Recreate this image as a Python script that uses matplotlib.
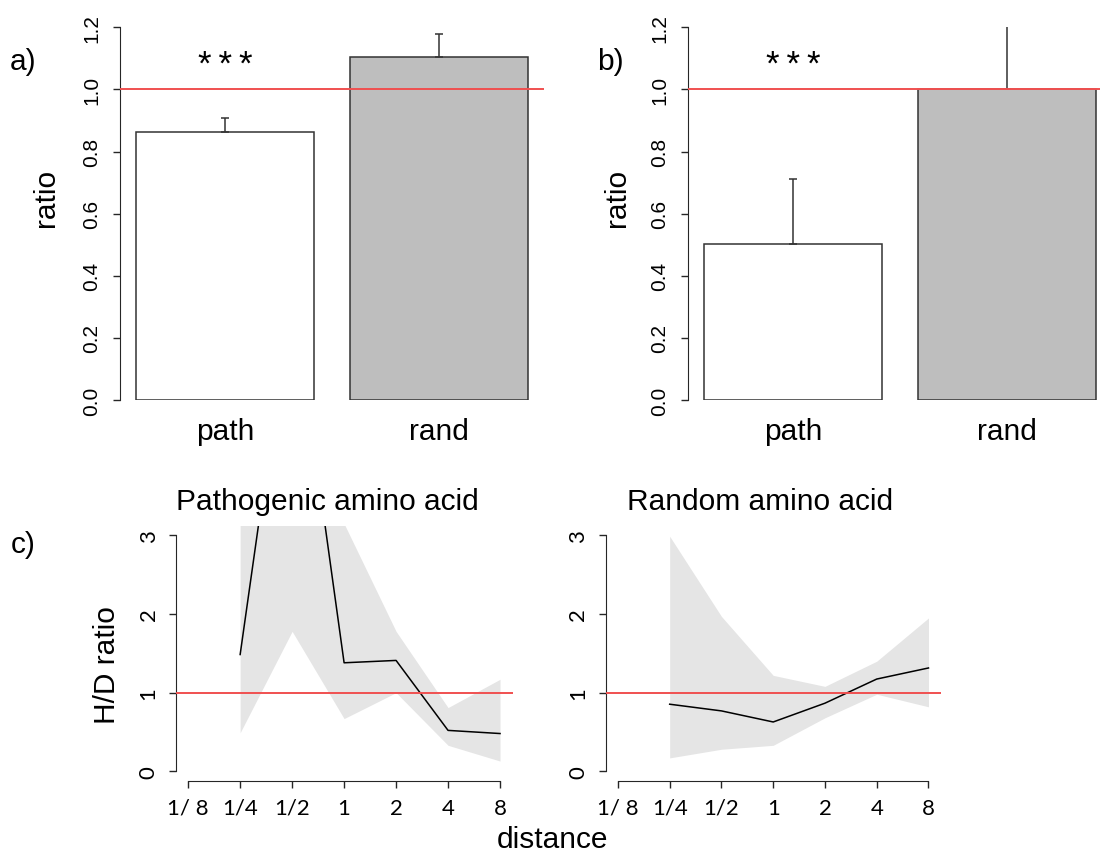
import matplotlib
matplotlib.use("Agg")
import matplotlib.pyplot as plt
import matplotlib.ticker as mticker

plt.rcParams['font.family'] = ['Liberation Sans', 'DejaVu Sans']

# --- data ---
bar_labels = ["path", "rand"]
a_ratio = [0.864, 1.103]
a_err_top = [0.909, 1.179]
b_ratio = [0.501, 1.0]
b_err_top = [0.713, 1.45]
bar_colors = ["white", "#bebebe"]

distance = [1/4, 1/2, 1, 2, 4, 8]
dist_ticks = [1/8, 1/4, 1/2, 1, 2, 4, 8]
dist_labels = ["1/ 8", "1/4", "1/2", "1", "2", "4", "8"]

path_mean = [1.485, 6.15, 1.38, 1.41, 0.52, 0.48]
path_low = [0.49, 1.78, 0.67, 1.0, 0.33, 0.13]
path_high = [6.5, 10.0, 3.15, 1.78, 0.81, 1.17]

rand_mean = [0.853, 0.768, 0.627, 0.866, 1.173, 1.314]
rand_low = [0.17, 0.28, 0.33, 0.68, 0.98, 0.82]
rand_high = [2.99, 1.97, 1.22, 1.08, 1.40, 1.95]

W, H = 1100, 854
fig = plt.figure(figsize=(W / 100, H / 100), dpi=100)

def px_axes(x0, y0, x1, y1):
    # pixel box (left, top, right, bottom) -> axes
    return fig.add_axes([x0 / W, 1 - y1 / H, (x1 - x0) / W, (y1 - y0) / H])

axis_col = "#262626"
red = "#f05050"
LBL = 21.5
calib = ["Lato", "DejaVu Sans"]

def bar_panel(ax, vals, tops):
    xpos = [0.7, 1.9]
    ax.bar(xpos, vals, width=1.0, color=bar_colors, edgecolor="#333333", linewidth=1.1, zorder=2)
    lower = [0, 0]
    upper = [t - v for t, v in zip(tops, vals)]
    ax.errorbar(xpos, vals, yerr=[lower, upper], fmt="none", ecolor="#333333",
                elinewidth=1.1, capsize=3.2, capthick=1.1, zorder=3)
    ax.axhline(1.0, color=red, linewidth=1.4, zorder=4)
    ax.set_xlim(0.112, 2.488)
    ax.set_ylim(0, 1.2)
    for s in ["top", "right", "bottom"]:
        ax.spines[s].set_visible(False)
    ax.spines["left"].set_bounds(0, 1.2)
    ax.spines["left"].set_color(axis_col)
    ax.set_yticks([0.0, 0.2, 0.4, 0.6, 0.8, 1.0, 1.2])
    ax.set_yticklabels(["0.0", "0.2", "0.4", "0.6", "0.8", "1.0", "1.2"],
                       rotation=90, va="center", fontsize=15)
    ax.tick_params(axis="y", length=5.3, width=1, color=axis_col, pad=8)
    ax.set_xticks(xpos)
    ax.set_xticklabels(bar_labels, fontsize=LBL)
    ax.tick_params(axis="x", length=0, pad=12)
    # significance stars, thin-spaced
    ax.text(0.7, 1.05, "*\u2009*\u2009*", ha="center", va="baseline", fontsize=25)

ax_a = px_axes(120, 28.3, 544, 401)
bar_panel(ax_a, a_ratio, a_err_top)
ax_b = px_axes(688, 28.3, 1112, 401)
bar_panel(ax_b, b_ratio, b_err_top)

def line_panel(ax, mean, low, high):
    ax.set_xscale("log", base=2)
    ax.fill_between(distance, low, high, color="#e5e5e5", linewidth=0, zorder=1)
    ax.plot(distance, mean, color="black", linewidth=1.1, zorder=3)
    ax.axhline(1.0, color=red, linewidth=1.4, zorder=4)
    ax.set_xlim(2 ** -3.24, 2 ** 3.24)
    ax.set_ylim(-0.12, 3.12)
    for s in ["top", "right"]:
        ax.spines[s].set_visible(False)
    ax.spines["left"].set_bounds(0, 3)
    ax.spines["bottom"].set_bounds(1/8, 8)
    ax.spines["left"].set_color(axis_col)
    ax.spines["bottom"].set_color(axis_col)
    ax.xaxis.set_minor_locator(mticker.NullLocator())
    ax.set_xticks(dist_ticks)
    ax.set_xticklabels(dist_labels, fontsize=16, family=calib)
    ax.set_yticks([0, 1, 2, 3])
    ax.set_yticklabels(["0", "1", "2", "3"], rotation=90, va="center",
                       fontsize=16, family=calib)
    ax.tick_params(axis="x", length=5.3, width=1, color=axis_col, pad=7)
    ax.tick_params(axis="y", length=5.3, width=1, color=axis_col, pad=7)

ax_c1 = px_axes(175.7, 527, 512.5, 781.7)
line_panel(ax_c1, path_mean, path_low, path_high)
ax_c2 = px_axes(605.5, 527, 940.9, 781.7)
line_panel(ax_c2, rand_mean, rand_low, rand_high)

def ftext(x, y, s, **kw):
    fig.text(x / W, 1 - y / H, s, ha="center", va="center", **kw)

ftext(23, 62, "a)", fontsize=LBL)
ftext(610, 62, "b)", fontsize=LBL)
ftext(23, 545, "c)", fontsize=LBL)
ftext(46, 198, "ratio", fontsize=LBL, rotation=90)
ftext(617, 198, "ratio", fontsize=LBL, rotation=90)
ftext(107, 665, "H/D ratio", fontsize=LBL, rotation=90)
ftext(552, 840, "distance", fontsize=LBL)
ftext(327, 502, "Pathogenic amino acid", fontsize=LBL)
ftext(760, 502, "Random amino acid", fontsize=LBL)

fig.savefig("out.png", dpi=100)
